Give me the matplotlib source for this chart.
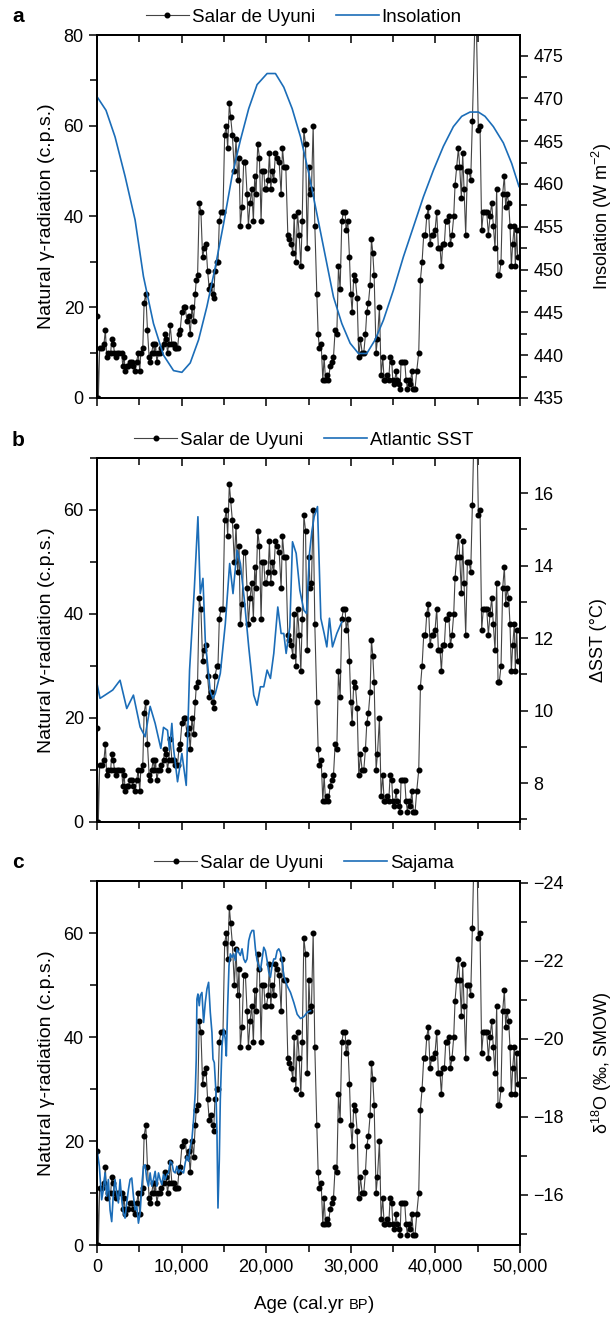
import matplotlib
matplotlib.use('Agg')
import matplotlib.pyplot as plt
from matplotlib.ticker import MultipleLocator, FuncFormatter

plt.rcParams['font.family'] = ['Liberation Sans', 'DejaVu Sans']
plt.rcParams['mathtext.fontset'] = 'custom'
plt.rcParams['mathtext.rm'] = 'Liberation Sans'
plt.rcParams['font.size'] = 13

# Salar de Uyuni natural gamma radiation (c.p.s.) vs age (cal. yr BP)
uyuni_age = [
    0, 158, 316, 592, 830, 988, 1146, 1343, 1620, 1738,
    1936, 2054, 2252, 2410, 2647, 2923, 3042, 3200, 3358, 3516,
    3713, 3911, 4108, 4306, 4464, 4700, 4859, 5056, 5175, 5412,
    5570, 5767, 5965, 6162, 6320, 6478, 6636, 6794, 6913, 7071,
    7268, 7466, 7624, 7861, 8058, 8177, 8335, 8493, 8651, 8848,
    9046, 9204, 9362, 9520, 9678, 9836, 10033, 10231, 10428, 10626,
    10823, 11021, 11218, 11416, 11613, 11732, 11890, 12087, 12285, 12482,
    12680, 12877, 13075, 13272, 13470, 13667, 13786, 13944, 14181, 14299,
    14457, 14655, 14892, 15089, 15287, 15445, 15642, 15800, 15998, 16235,
    16432, 16630, 16788, 16946, 17143, 17341, 17538, 17736, 17894, 18091,
    18289, 18486, 18644, 18802, 19000, 19197, 19395, 19553, 19711, 19869,
    20027, 20224, 20382, 20540, 20738, 20896, 21093, 21291, 21528, 21765,
    21923, 22120, 22318, 22555, 22752, 22950, 23148, 23306, 23503, 23701,
    23898, 24096, 24254, 24451, 24649, 24846, 25043, 25197, 25354, 25551,
    25748, 25984, 26142, 26299, 26496, 26693, 26850, 27008, 27165, 27362,
    27559, 27756, 27953, 28150, 28346, 28543, 28740, 28937, 29134, 29331,
    29449, 29646, 29843, 30000, 30157, 30354, 30551, 30748, 30945, 31142,
    31339, 31535, 31732, 31890, 32087, 32283, 32441, 32598, 32756, 32992,
    33150, 33386, 33583, 33780, 33937, 34094, 34331, 34488, 34646, 34843,
    34961, 35157, 35354, 35472, 35669, 35827, 35945, 36142, 36378, 36535,
    36693, 36850, 37047, 37205, 37402, 37598, 37795, 38031, 38228, 38425,
    38622, 38819, 38976, 39173, 39370, 39567, 39764, 39961, 40157, 40354,
    40551, 40709, 40866, 41063, 41220, 41417, 41575, 41772, 41969, 42165,
    42323, 42520, 42717, 42874, 43071, 43228, 43386, 43583, 43780, 43976,
    44173, 44370, 44764, 45079, 45276, 45472, 45669, 45866, 46063, 46260,
    46457, 46654, 46850, 47047, 47244, 47402, 47559, 47756, 47953, 48150,
    48307, 48465, 48661, 48819, 48976, 49134, 49331, 49449, 49606, 49724,
]
uyuni_value = [
    18, 0, 11, 11, 12, 15, 9, 10, 10, 13,
    12, 10, 9, 10, 10, 10, 7, 9, 6, 7,
    7, 8, 8, 7, 6, 8, 10, 6, 10, 11,
    21, 23, 15, 9, 8, 10, 12, 10, 12, 8,
    10, 10, 11, 12, 14, 13, 10, 12, 16, 12,
    12, 11, 11, 11, 14, 15, 19, 20, 20, 17,
    18, 14, 20, 17, 23, 26, 27, 43, 41, 31,
    33, 34, 28, 24, 25, 23, 22, 28, 30, 30,
    39, 41, 41, 58, 60, 55, 65, 62, 58, 50,
    57, 48, 53, 38, 42, 52, 52, 45, 38, 43,
    46, 39, 49, 45, 56, 53, 39, 50, 50, 46,
    46, 48, 54, 46, 50, 48, 54, 53, 52, 45,
    55, 51, 51, 36, 35, 34, 32, 40, 30, 41,
    36, 29, 39, 59, 56, 33, 51, 45, 46, 60,
    38, 23, 14, 11, 12, 4, 9, 4, 5, 4,
    7, 8, 9, 15, 14, 29, 24, 39, 41, 41,
    37, 39, 31, 23, 19, 27, 26, 22, 9, 13,
    10, 10, 14, 19, 21, 25, 35, 32, 27, 10,
    13, 20, 5, 9, 4, 4, 5, 4, 9, 8,
    4, 3, 6, 4, 3, 2, 8, 8, 8, 4,
    2, 4, 3, 6, 2, 2, 6, 10, 26, 30,
    36, 36, 40, 42, 34, 36, 36, 37, 41, 33,
    33, 29, 34, 34, 39, 39, 40, 34, 36, 40,
    47, 51, 55, 51, 44, 54, 46, 36, 50, 50,
    48, 61, 90, 59, 60, 37, 41, 41, 41, 36,
    40, 43, 38, 33, 46, 27, 27, 30, 45, 49,
    42, 45, 43, 38, 29, 34, 38, 29, 37, 31,
]

# insolation (W m-2)
ins_age = [0, 1066, 2133, 3318, 4503, 5490, 6675, 7860, 9046, 10033,
           11021, 12008, 12996, 13983, 14970, 15958, 16946, 17933, 18920, 20106,
           21093, 22080, 23068, 24056, 25043, 26378, 27953, 28937, 29921, 30906,
           31890, 32874, 33858, 35039, 36220, 37402, 38583, 39764, 40945, 42126,
           43110, 44094, 45079, 45866, 46850, 48031, 49016, 49882]
ins_value = [470.2, 468.6, 465.5, 460.9, 455.8, 449.2, 443.7, 440.0, 438.2, 438.0,
             439.1, 441.8, 445.7, 450.3, 455.4, 460.9, 465.1, 468.8, 471.6, 472.9,
             472.9, 471.3, 468.8, 465.5, 461.2, 454.6, 446.8, 443.7, 441.4, 440.2,
             440.2, 441.8, 444.1, 447.6, 451.5, 455.0, 458.5, 461.6, 464.4, 466.7,
             467.9, 468.4, 468.4, 467.9, 466.7, 464.8, 462.4, 459.7]

# Atlantic SST (deg C)
sst_age = [0, 356, 948, 1857, 2726, 3516, 4306, 5096, 5688, 6281,
           6873, 7545, 7861, 8335, 8572, 8848, 9046, 9520, 10033, 10547,
           10942, 11495, 11929, 12206, 12522, 12798, 13391, 13707, 13983, 14576,
           15168, 15682, 16077, 16551, 16946, 17420, 17933, 18526, 18921, 19316,
           19711, 20106, 20501, 20896, 21370, 21765, 22081, 22357, 22792, 23108,
           23542, 23977, 24451, 24767, 25118, 25394, 25669, 26063, 26457, 26850,
           27165, 27480, 27835, 28346, 28937]
sst_value = [10.75, 10.34, 10.43, 10.57, 10.84, 10.06, 10.43, 9.55, 9.28, 10.12,
             9.65, 8.96, 9.54, 9.46, 8.91, 9.65, 8.96, 8.04, 8.82, 7.94,
             11.12, 13.32, 15.35, 13.23, 13.65, 11.94, 10.52, 10.34, 10.47, 11.03,
             12.40, 14.06, 13.23, 14.43, 14.06, 13.05, 11.76, 10.43, 10.15, 10.66,
             10.66, 11.12, 10.89, 11.58, 12.86, 12.13, 12.13, 11.58, 12.31, 14.66,
             14.34, 13.32, 12.77, 12.68, 14.34, 14.94, 15.35, 15.63, 12.55, 12.13,
             11.76, 12.55, 11.76, 12.13, 12.45]

# Sajama d18O (permil, SMOW)
sajama_age = [0, 277, 553, 751, 948, 1146, 1343, 1541, 1738, 1936,
              2133, 2331, 2528, 2726, 2923, 3121, 3318, 3516, 3713, 3911,
              4108, 4306, 4503, 4701, 4898, 5096, 5293, 5491, 5688, 5886,
              6083, 6281, 6478, 6676, 6873, 7071, 7268, 7466, 7663, 7861,
              8058, 8256, 8453, 8651, 8848, 9046, 9243, 9441, 9638, 9836,
              10033, 10231, 10428, 10626, 10823, 11021, 11218, 11416, 11613, 11732,
              11811, 11929, 12087, 12206, 12403, 12601, 12798, 12996, 13193, 13391,
              13588, 13707, 13865, 14062, 14181, 14299, 14457, 14576, 14773, 14971,
              15168, 15287, 15445, 15603, 15761, 15958, 16156, 16353, 16551, 16748,
              16946, 17143, 17341, 17538, 17736, 17933, 18131, 18328, 18526, 18723,
              18921, 19118, 19316, 19513, 19711, 19908, 20106, 20303, 20501, 20698,
              20896, 21093, 21291, 21488, 21686, 21883, 22081, 22278, 22476, 22871,
              23266, 23661, 24056, 24451, 24846, 25241]
sajama_value = [-17.16, -16.73, -15.87, -16.13, -16.56, -15.96, -16.39, -15.61, -15.31, -16.04,
                -16.39, -16.04, -15.79, -16.39, -15.87, -15.53, -15.40, -15.79, -16.13, -16.39,
                -16.43, -15.96, -15.61, -15.70, -15.27, -15.53, -16.22, -16.73, -16.77, -16.39,
                -16.22, -16.56, -16.22, -16.39, -16.60, -16.22, -16.56, -16.39, -16.26, -16.52,
                -16.39, -16.52, -16.56, -16.86, -16.82, -16.60, -16.56, -16.73, -16.56, -16.64,
                -16.60, -16.56, -16.82, -16.99, -16.86, -17.24, -17.42, -17.93, -18.62, -19.48,
                -21.02, -21.15, -20.85, -21.11, -21.19, -20.42, -20.93, -21.28, -21.45, -20.68,
                -20.16, -19.48, -19.39, -18.62, -17.59, -15.66, -16.90, -18.45, -19.82, -20.25,
                -19.99, -19.56, -20.85, -21.88, -22.18, -22.09, -22.18, -22.01, -22.31, -22.22,
                -22.14, -22.31, -22.05, -21.96, -22.05, -22.52, -22.69, -22.78, -22.78, -22.31,
                -22.01, -21.88, -21.75, -22.05, -22.35, -22.26, -22.01, -21.71, -21.58, -21.88,
                -22.05, -22.05, -22.26, -22.31, -22.22, -21.96, -21.62, -21.49, -21.36, -21.19,
                -20.93, -20.63, -20.52, -20.57, -20.68, -20.72]

BLUE = '#1b6db8'
W, H = 614.0, 1327.0


def rect(top, bottom):
    return [97 / W, 1 - bottom / H, 423 / W, (bottom - top) / H]


def thousands(x, pos):
    return f'{int(x):,}'


fig = plt.figure(figsize=(6.14, 13.27), dpi=100)


def make_panel(top, bottom, ymax, ylab_step, right_lim, right_major, right_minor,
               other_age, other_value, other_label, right_label, letter, show_x):
    ax = fig.add_axes(rect(top, bottom))
    l1, = ax.plot(uyuni_age, uyuni_value, color='#444444', lw=0.8, marker='o',
                  ms=3.3, mfc='black', mec='black', label='Salar de Uyuni')
    ax.set_xlim(0, 50000)
    ax.set_ylim(0, ymax)
    ax.xaxis.set_major_locator(MultipleLocator(10000))
    ax.xaxis.set_minor_locator(MultipleLocator(5000))
    ax.xaxis.set_major_formatter(FuncFormatter(thousands))
    ax.yaxis.set_major_locator(MultipleLocator(ylab_step))
    ax.yaxis.set_minor_locator(MultipleLocator(10))
    ax.tick_params(which='major', direction='out', length=6, width=1.1, labelsize=13)
    ax.tick_params(which='minor', direction='out', length=5, width=1.1)
    ax.tick_params(axis='x', labelbottom=show_x, pad=4)
    ax.set_ylabel('Natural γ-radiation (c.p.s.)', fontsize=14, labelpad=6)
    for s in ax.spines.values():
        s.set_linewidth(1.3)

    top_ax = ax.secondary_xaxis('top')
    top_ax.xaxis.set_major_locator(MultipleLocator(10000))
    top_ax.xaxis.set_minor_locator(MultipleLocator(5000))
    top_ax.tick_params(which='both', direction='in', labeltop=False, width=1.1)
    top_ax.tick_params(which='major', length=6)
    top_ax.tick_params(which='minor', length=5)
    top_ax.spines['top'].set_linewidth(1.3)

    tw = ax.twinx()
    l2, = tw.plot(other_age, other_value, color=BLUE, lw=1.2, label=other_label)
    tw.set_ylim(*right_lim)
    tw.yaxis.set_major_locator(MultipleLocator(right_major))
    tw.yaxis.set_minor_locator(MultipleLocator(right_minor))
    tw.tick_params(which='major', direction='out', length=6, width=1.1, labelsize=13)
    tw.tick_params(which='minor', direction='out', length=5, width=1.1)
    tw.set_ylabel(right_label, fontsize=13)
    tw.yaxis.set_label_coords(1.165, 0.5)
    for s in tw.spines.values():
        s.set_linewidth(1.3)

    ax.legend(handles=[l1, l2], loc='center', ncol=2, frameon=False, fontsize=13.5,
              bbox_to_anchor=(0.489, 1 + 18 / (bottom - top)), numpoints=1,
              handlelength=2.3, handletextpad=0.15, columnspacing=1.1,
              borderaxespad=0)
    fig.text(12 / W, 1 - (top - 18) / H, letter, fontsize=15, fontweight='bold',
             va='center', ha='left')
    return ax


make_panel(35, 398, 80, 20, (435, 477.4), 5, 2.5, ins_age, ins_value,
           'Insolation', 'Insolation (W m$^{-2}$)', 'a', False)
make_panel(458, 822, 70, 20, (6.93, 16.97), 2, 1, sst_age, sst_value,
           'Atlantic SST', 'ΔSST (°C)', 'b', False)
make_panel(881, 1245, 70, 20, (-14.71, -24.05), 2, 1, sajama_age, sajama_value,
           'Sajama', 'δ$^{18}$O (‰, SMOW)', 'c', True)

# x-axis title, "BP" in small caps sharing the baseline
ybase = 1 - 1309 / H
parts = [('Age (cal.yr ', 13.5), ('BP', 10.5), (')', 13.5)]
renderer = fig.canvas.get_renderer()
x = 254 / W
for txt, size in parts:
    t = fig.text(x, ybase, txt, fontsize=size, va='baseline', ha='left')
    bb = t.get_window_extent(renderer=renderer)
    x = bb.x1 / fig.bbox.width

fig.savefig('out.png', dpi=100)
